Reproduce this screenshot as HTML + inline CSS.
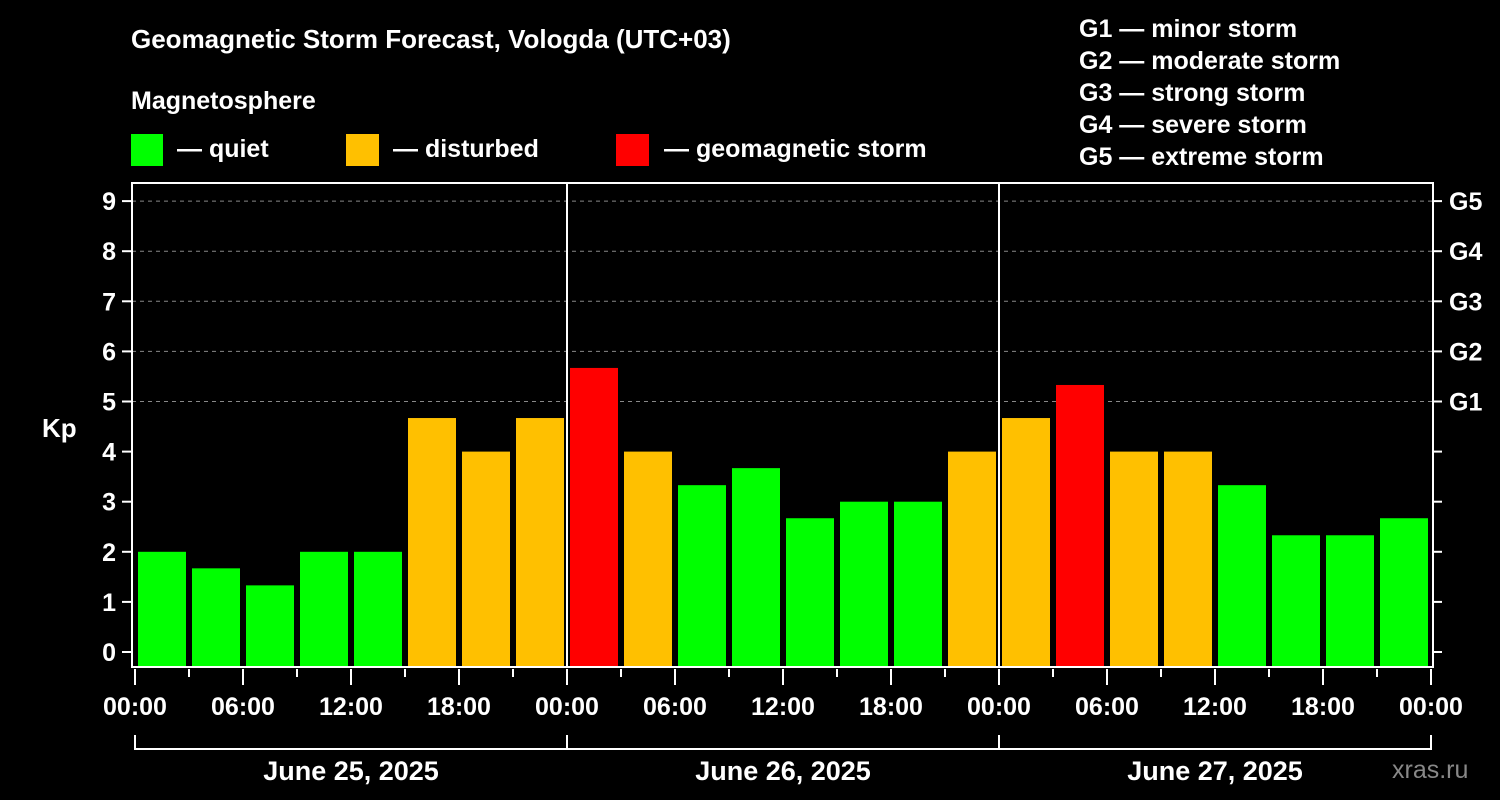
<!DOCTYPE html>
<html><head><meta charset="utf-8"><style>
html,body{margin:0;padding:0;background:#000;}
svg{display:block;font-family:"Liberation Sans",Arial,sans-serif;font-weight:bold;}
</style></head><body>
<svg id="chart" width="1500" height="800" viewBox="0 0 1500 800">
<rect width="1500" height="800" fill="#000"/>
<text x="131" y="48" fill="#fff" font-size="26">Geomagnetic Storm Forecast, Vologda (UTC+03)</text>
<text x="131" y="109" fill="#fff" font-size="25">Magnetosphere</text>
<g><rect x="131" y="134" width="32" height="32" fill="#00ff00"/><text x="177" y="157" fill="#fff" font-size="25">— quiet</text></g>
<g><rect x="346" y="134" width="33" height="32" fill="#ffc000"/><text x="393" y="157" fill="#fff" font-size="25">— disturbed</text></g>
<g><rect x="616" y="134" width="33" height="32" fill="#ff0000"/><text x="664" y="157" fill="#fff" font-size="25">— geomagnetic storm</text></g>
<g fill="#fff" font-size="25">
<text x="1079" y="37">G1 — minor storm</text>
<text x="1079" y="69">G2 — moderate storm</text>
<text x="1079" y="101">G3 — strong storm</text>
<text x="1079" y="133">G4 — severe storm</text>
<text x="1079" y="165">G5 — extreme storm</text>
</g>
<text x="42" y="437" fill="#fff" font-size="26">Kp</text>
<text x="1392" y="778" fill="#888" font-size="25" font-weight="normal">xras.ru</text>
<g id="grid"></g><g id="bars"></g><g id="axes"></g>
</svg>
<script>
const values=[2,1.67,1.33,2,2,4.67,4,4.67,5.67,4,3.33,3.67,2.67,3,3,4,4.67,5.33,4,4,3.33,2.33,2.33,2.67];
const yTicks=[0,1,2,3,4,5,6,7,8,9];
const gLabels=["G1","G2","G3","G4","G5"];
const xLabels=["00:00","06:00","12:00","18:00","00:00","06:00","12:00","18:00","00:00","06:00","12:00","18:00","00:00"];
const dates=["June 25, 2025","June 26, 2025","June 27, 2025"];
const NS="http://www.w3.org/2000/svg";
const X0=135,SLOT=54,PB=667,PT=183,PL=132,PR=1433;
const y=v=>652-v*50.1;
const x=i=>X0+i*SLOT;
function mk(t,a,p){const e=document.createElementNS(NS,t);for(const k in a)e.setAttribute(k,a[k]);p.appendChild(e);return e;}
const grid=document.getElementById('grid'),bars=document.getElementById('bars'),axes=document.getElementById('axes');
yTicks.forEach(v=>{
 if(v>=5){const l=mk('line',{x1:PL,x2:PR,y1:y(v),y2:y(v),stroke:'#888','stroke-dasharray':'4,4','stroke-width':1},grid);
 
 }
 const t=mk('line',{x1:PL-10,x2:PL,y1:y(v),y2:y(v),stroke:'#fff','stroke-width':2},axes);
 
 
 mk('line',{x1:PR,x2:PR+9,y1:y(v),y2:y(v),stroke:'#fff','stroke-width':2},axes);
 const tx=mk('text',{x:PL-16,y:y(v)+9,fill:'#fff','font-size':25,'text-anchor':'end'},axes);tx.textContent=v;
 
 
});
gLabels.forEach((g,i)=>{const t=mk('text',{x:PR+16,y:y(5+i)+9,fill:'#fff','font-size':25},axes);t.textContent=g;
 
 });
values.forEach((v,i)=>{
 const c=v>=5?'#ff0000':(v>=4?'#ffc000':'#00ff00');
 const r=mk('rect',{x:x(i)+3,y:y(v),width:48,height:PB-y(v),fill:c},bars);
 
 
});
mk('rect',{x:PL,y:PT,width:PR-PL,height:PB-PT,fill:'none',stroke:'#fff','stroke-width':2},axes);
[1,2].forEach(d=>mk('line',{x1:x(d*8),x2:x(d*8),y1:PT,y2:PB,stroke:'#fff','stroke-width':2},axes));
for(let i=0;i<=24;i++){
 const major=i%2==0;
 mk('line',{x1:x(i),x2:x(i),y1:PB+2,y2:PB+(major?18:10),stroke:'#fff','stroke-width':2},axes);
 if(major){const t=mk('text',{x:x(i),y:715,fill:'#fff','font-size':25,'text-anchor':'middle'},axes);t.textContent=xLabels[i/2];
 
 }
}
dates.forEach((d,k)=>{
 const a=x(k*8),b=x(k*8+8);
 mk('path',{d:`M${a},735V749H${b}V735`,stroke:'#fff','stroke-width':2,fill:'none'},axes);
 const t=mk('text',{x:(a+b)/2,y:780,fill:'#fff','font-size':27,'text-anchor':'middle'},axes);t.textContent=d;
 
 
});
</script>
</body></html>
